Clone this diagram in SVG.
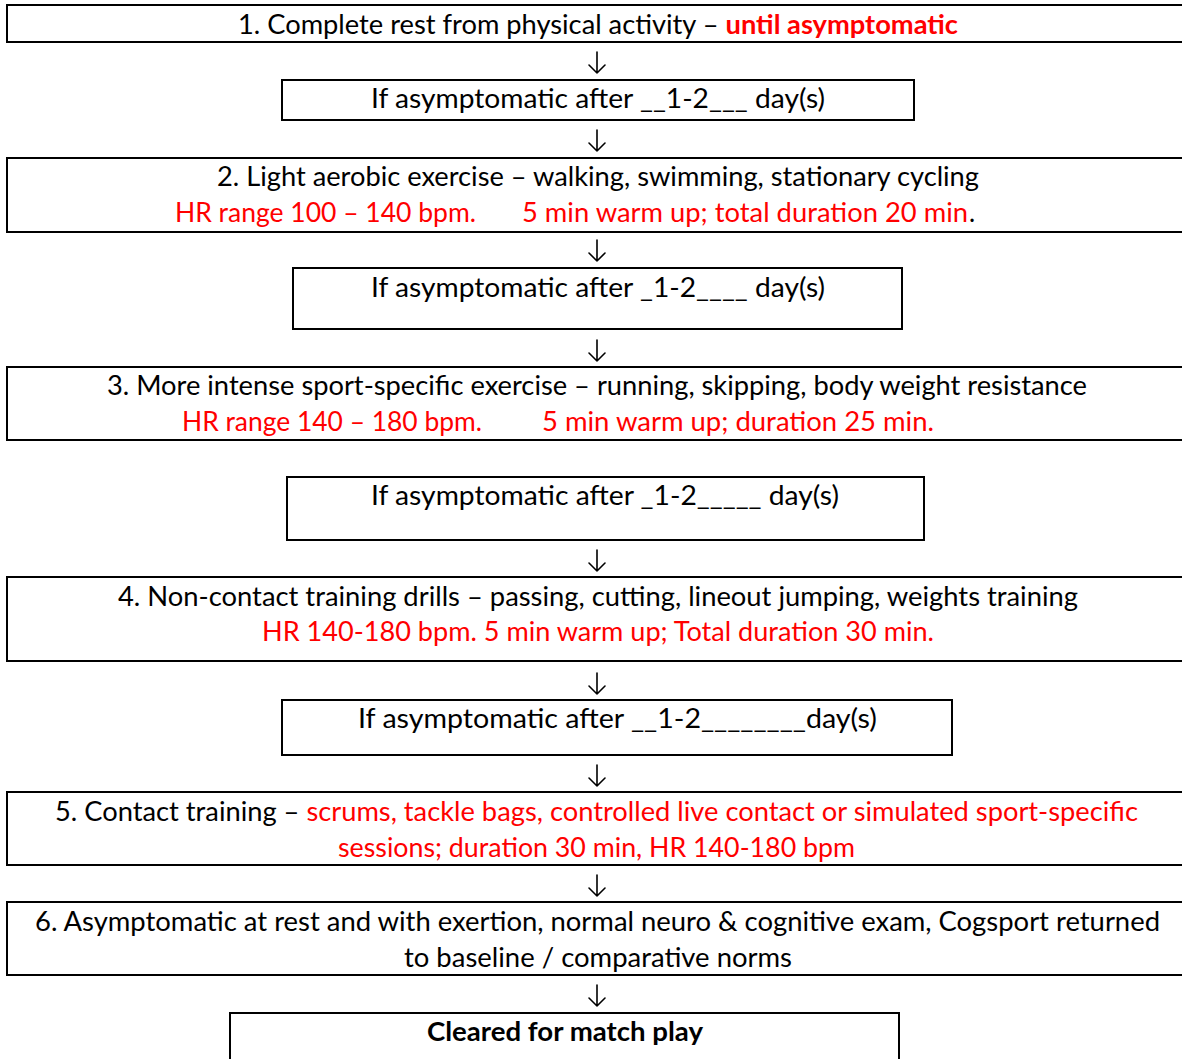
<svg xmlns="http://www.w3.org/2000/svg" width="1182" height="1059" viewBox="0 0 1182 1059">
<style>
.box{fill:#fff;stroke:#000;stroke-width:2}
.t{font-family:Lato,"Liberation Sans",sans-serif;font-size:26px;fill:#000}
.r{fill:#ff0000}
.b{font-weight:bold}
.arr{fill:none;stroke:#000;stroke-width:1.6;stroke-linecap:round;stroke-linejoin:round}
</style>
<rect width="1182" height="1059" fill="#fff"/>
<g id="connectors">
<path class="arr" d="M597,52V73M589,65L597,73L605,65"/>
<path class="arr" d="M597,130V151M589,143L597,151L605,143"/>
<path class="arr" d="M597,240V261M589,253L597,261L605,253"/>
<path class="arr" d="M597,340V361M589,353L597,361L605,353"/>
<path class="arr" d="M597,550V571M589,563L597,571L605,563"/>
<path class="arr" d="M597,673V694M589,686L597,694L605,686"/>
<path class="arr" d="M597,765V786M589,778L597,786L605,778"/>
<path class="arr" d="M597,875V896M589,888L597,896L605,888"/>
<path class="arr" d="M597,985V1006M589,998L597,1006L605,998"/>
</g>
<g id="step1">
<rect class="box" x="7" y="5" width="1190" height="37"/>
<text class="t" x="238" y="34" textLength="720" lengthAdjust="spacingAndGlyphs">1. Complete rest from physical activity – <tspan class="r b">until asymptomatic</tspan></text>
</g>
<g id="wait1">
<rect class="box" x="282" y="80" width="632" height="40"/>
<text class="t" x="371" y="108" textLength="454" lengthAdjust="spacingAndGlyphs">If asymptomatic after __1-2___ day(s)</text>
</g>
<g id="step2">
<rect class="box" x="7" y="158" width="1190" height="74"/>
<text class="t" x="217" y="186" textLength="762" lengthAdjust="spacingAndGlyphs">2. Light aerobic exercise – walking, swimming, stationary cycling</text>
<text class="t r" x="175" y="222" textLength="301" lengthAdjust="spacingAndGlyphs">HR range 100 – 140 bpm.</text>
<text class="t r" x="522" y="222" textLength="446" lengthAdjust="spacingAndGlyphs">5 min warm up; total duration 20 min</text>
<text class="t" x="969" y="222">.</text>
</g>
<g id="wait2">
<rect class="box" x="293" y="268" width="609" height="61"/>
<text class="t" x="371" y="297" textLength="454" lengthAdjust="spacingAndGlyphs">If asymptomatic after _1-2____ day(s)</text>
</g>
<g id="step3">
<rect class="box" x="7" y="367" width="1190" height="73"/>
<text class="t" x="107" y="395" textLength="980" lengthAdjust="spacingAndGlyphs">3. More intense sport-specific exercise – running, skipping, body weight resistance</text>
<text class="t r" x="182" y="431" textLength="300" lengthAdjust="spacingAndGlyphs">HR range 140 – 180 bpm.</text>
<text class="t r" x="542" y="431" textLength="392" lengthAdjust="spacingAndGlyphs">5 min warm up; duration 25 min.</text>
</g>
<g id="wait3">
<rect class="box" x="287" y="477" width="637" height="63"/>
<text class="t" x="371" y="505" textLength="468" lengthAdjust="spacingAndGlyphs">If asymptomatic after _1-2_____ day(s)</text>
</g>
<g id="step4">
<rect class="box" x="7" y="577" width="1190" height="84"/>
<text class="t" x="118" y="606" textLength="960" lengthAdjust="spacingAndGlyphs">4. Non-contact training drills – passing, cutting, lineout jumping, weights training</text>
<text class="t r" x="262" y="641" textLength="672" lengthAdjust="spacingAndGlyphs">HR 140-180 bpm. 5 min warm up; Total duration 30 min.</text>
</g>
<g id="wait4">
<rect class="box" x="282" y="700" width="670" height="55"/>
<text class="t" x="358" y="728" textLength="519" lengthAdjust="spacingAndGlyphs">If asymptomatic after __1-2________day(s)</text>
</g>
<g id="step5">
<rect class="box" x="7" y="792" width="1190" height="73"/>
<text class="t" x="55" y="821" textLength="1083" lengthAdjust="spacingAndGlyphs">5. Contact training – <tspan class="r">scrums, tackle bags, controlled live contact or simulated sport-specific</tspan></text>
<text class="t r" x="338" y="857" textLength="517" lengthAdjust="spacingAndGlyphs">sessions; duration 30 min, HR 140-180 bpm</text>
</g>
<g id="step6">
<rect class="box" x="7" y="902" width="1190" height="73"/>
<text class="t" x="35" y="931" textLength="1125" lengthAdjust="spacingAndGlyphs">6. Asymptomatic at rest and with exertion, normal neuro &amp; cognitive exam, Cogsport returned</text>
<text class="t" x="404" y="967" textLength="388" lengthAdjust="spacingAndGlyphs">to baseline / comparative norms</text>
</g>
<g id="cleared">
<rect class="box" x="230" y="1013" width="669" height="60"/>
<text class="t b" x="427" y="1041" textLength="276" lengthAdjust="spacingAndGlyphs">Cleared for match play</text>
</g>
</svg>
